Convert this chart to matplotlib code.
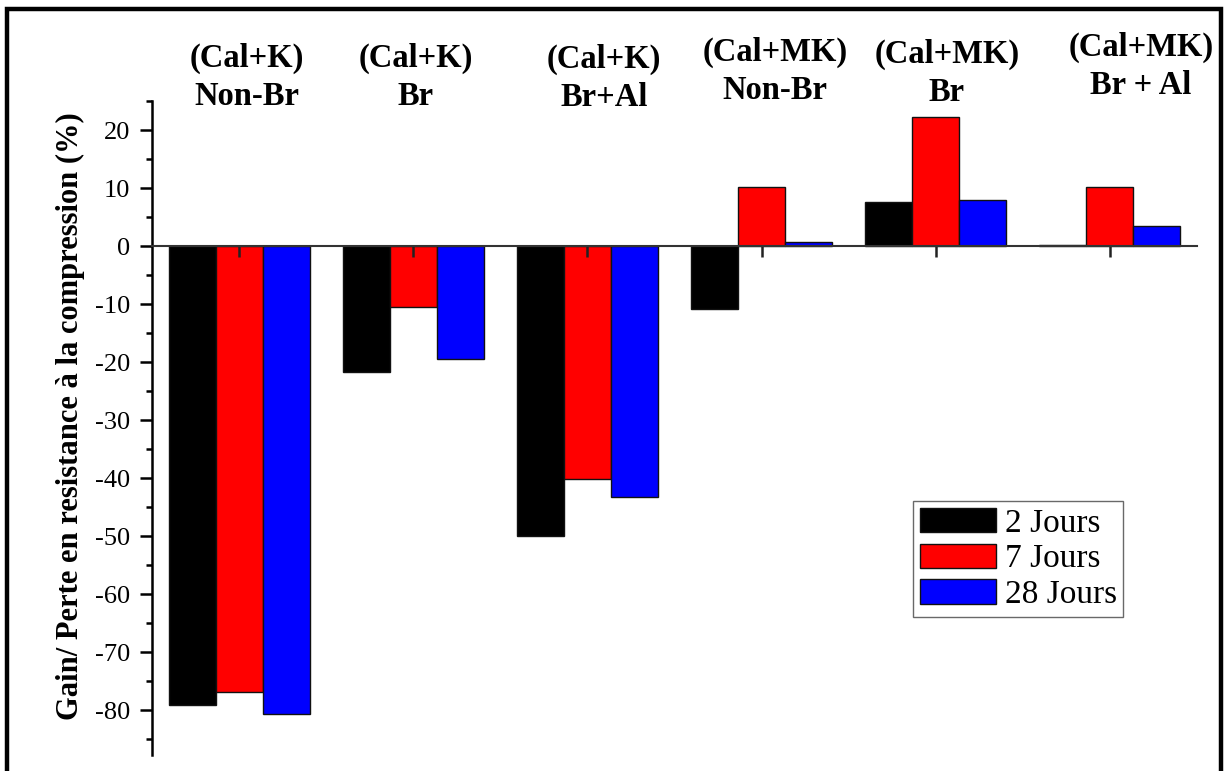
import matplotlib
matplotlib.use("Agg")
import matplotlib.pyplot as plt
import numpy as np
from matplotlib.patches import Rectangle
from matplotlib.ticker import MultipleLocator

categories = ["(Cal+K)\nNon-Br", "(Cal+K)\nBr", "(Cal+K)\nBr+Al",
              "(Cal+MK)\nNon-Br", "(Cal+MK)\nBr", "(Cal+MK)\nBr + Al"]
series_names = ["2 Jours", "7 Jours", "28 Jours"]
jours_2 = [-79.0, -21.7, -50.0, -10.9, 7.6, 0.1]
jours_7 = [-76.9, -10.5, -40.2, 10.2, 22.2, 10.1]
jours_28 = [-80.7, -19.5, -43.3, 0.7, 7.9, 3.4]
colors = ["#000000", "#ff0000", "#0000ff"]

W, H = 1227, 771
plt.rcParams['font.family'] = ['Liberation Serif', 'DejaVu Serif']
plt.rcParams['axes.unicode_minus'] = False
fig = plt.figure(figsize=(W / 100, H / 100), dpi=100)

ax = fig.add_axes([152 / W, 1 - 755 / H, (1197 - 152) / W, (755 - 101) / H])

x = np.arange(len(categories))
bw = 0.27
for i, (vals, name, c) in enumerate(zip([jours_2, jours_7, jours_28], series_names, colors)):
    ax.bar(x + (i - 1) * bw, vals, width=bw, color=c, edgecolor="#111111",
           linewidth=1.0, label=name, zorder=1)

ax.set_xlim(-0.5, 5.5)
ax.set_ylim(-87.7, 25)

for s in ["top", "right"]:
    ax.spines[s].set_visible(False)
ax.spines["bottom"].set_position(("data", 0))
ax.spines["bottom"].set_color("#333333")
ax.spines["bottom"].set_linewidth(1.5)
ax.spines["bottom"].set_zorder(3)
ax.spines["left"].set_linewidth(1.8)

ax.set_xticks(x)
ax.set_xticklabels([])
ax.tick_params(axis="x", direction="out", length=8, width=1.8, color="#222222")
ax.yaxis.set_major_locator(MultipleLocator(10))
ax.yaxis.set_minor_locator(MultipleLocator(5))
ax.tick_params(axis="y", which="major", direction="out", length=9, width=1.8,
               labelsize=19, pad=7)
ax.tick_params(axis="y", which="minor", direction="out", length=4.5, width=1.8)

fig.text(70 / W, 1 - 416 / H, "Gain/ Perte en resistance à la compression (%)",
         rotation=90, ha="center", va="center", fontsize=22, fontweight="bold")

label_pos = [(247, 77), (416, 77), (604, 78), (775, 71), (947, 73), (1141, 66)]
for lab, (px, py) in zip(categories, label_pos):
    fig.text(px / W, 1 - py / H, lab, ha="center", va="center",
             multialignment="center", fontsize=23.5, fontweight="bold",
             linespacing=1.3)

leg = ax.legend(loc="upper left", bbox_to_anchor=((913 - 152) / (1197 - 152), (755 - 501) / (755 - 101)),
                fontsize=24, frameon=True, fancybox=False, edgecolor="#444444",
                handlelength=2.3, handleheight=0.75, handletextpad=0.25,
                labelspacing=0.15, borderpad=0.2, borderaxespad=0)
leg.get_frame().set_linewidth(1.0)

frame = Rectangle((7 / W, -0.1), (1221 - 7) / W, 1.1 - 9.5 / H, transform=fig.transFigure,
                  fill=False, edgecolor="black", linewidth=3.2, clip_on=False)
fig.patches.append(frame)

fig.savefig("out.png", dpi=100)
